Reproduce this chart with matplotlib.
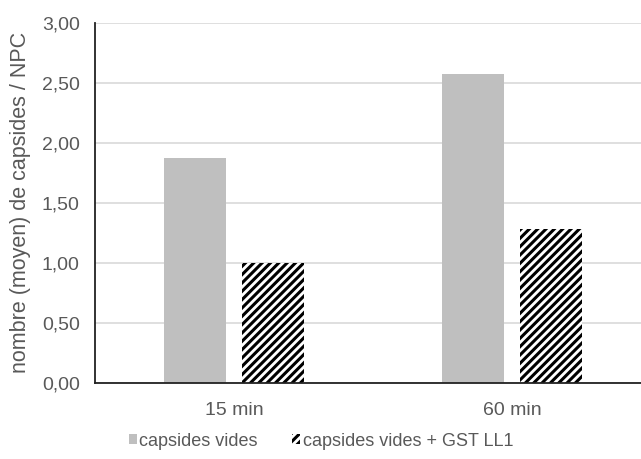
import matplotlib.pyplot as plt
import numpy as np
from matplotlib.ticker import FuncFormatter

# data
categories = ['15 min', '60 min']
vides = [1.87, 2.57]
vides_gst = [1.00, 1.28]
series_labels = ['capsides vides', 'capsides vides + GST LL1']

plt.rcParams['font.family'] = ['Liberation Sans', 'DejaVu Sans']
plt.rcParams['hatch.linewidth'] = 2.2
plt.rcParams['hatch.color'] = 'black'

W, H = 641, 459
fig = plt.figure(figsize=(W / 100, H / 100), dpi=100)
ax = fig.add_axes([95 / W, (H - 383) / H, (651 - 95) / W, (383 - 22.7) / H])

x = np.arange(len(categories))
bw = 0.223
off = 0.142
ax.bar(x - off, vides, bw, color='#bfbfbf', label=series_labels[0], zorder=2)
ax.bar(x + off, vides_gst, bw, facecolor='white', edgecolor='black', hatch='////',
       linewidth=0, label=series_labels[1], zorder=2)

ax.set_xlim(-0.5, 1.5)
ax.set_ylim(0, 3.0)
ax.set_yticks(np.arange(0, 3.01, 0.5))
ax.yaxis.set_major_formatter(FuncFormatter(lambda v, p: f'{v:.2f}'.replace('.', ',')))
ax.set_xticks(x)
ax.set_xticklabels(categories)
ax.tick_params(axis='both', length=0, labelsize=14, colors='#595959')
ax.tick_params(axis='y', pad=11)
ax.tick_params(axis='x', pad=14)
ax.grid(axis='y', color='#d9d9d9', linewidth=1.2, zorder=0)
ax.set_axisbelow(True)
for s in ['top', 'right']:
    ax.spines[s].set_visible(False)
for s in ['left', 'bottom']:
    ax.spines[s].set_color('#222222')
    ax.spines[s].set_linewidth(1.3)

ax.set_ylabel('nombre (moyen) de capsides / NPC', fontsize=15.5, color='#595959', labelpad=8)

fig.legend(loc='center', bbox_to_anchor=(321 / W, 1 - 441 / H), ncol=2, frameon=False,
           fontsize=13, handlelength=0.45, handleheight=0.45, handletextpad=0.15,
           columnspacing=1.9, labelcolor='#595959')

fig.savefig('out.png', dpi=100)
